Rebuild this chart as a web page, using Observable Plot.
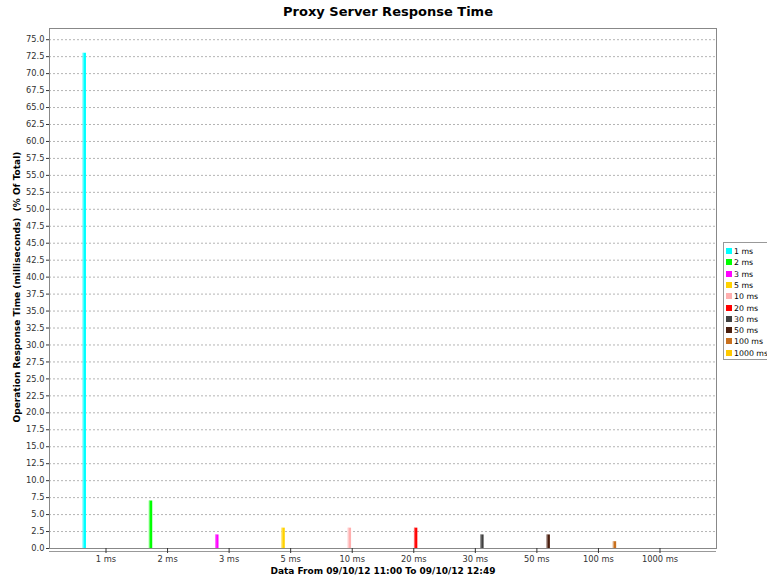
<!DOCTYPE html>
<html><head><meta charset="utf-8">
<script src="https://cdn.jsdelivr.net/npm/d3@7"></script>
<script src="https://cdn.jsdelivr.net/npm/@observablehq/plot@0.6"></script>
<style>
html,body{margin:0;padding:0;background:#fff;}
#chart{position:relative;width:767px;height:581px;overflow:hidden;font-family:"DejaVu Sans",sans-serif;color:#000;}
#chart svg{position:absolute;left:0;top:0;background:transparent !important;}
.title{position:absolute;left:0;width:776px;top:4px;text-align:center;font-weight:bold;font-size:13px;white-space:pre;}
.xlabel{position:absolute;left:0;width:766px;top:566px;text-align:center;font-weight:bold;font-size:9px;white-space:pre;}
.ylabel{position:absolute;left:-183px;width:400px;top:281px;text-align:center;font-weight:bold;font-size:9px;white-space:pre;transform:rotate(-90deg);transform-origin:50% 50%;line-height:12px;}
.legend{position:absolute;left:723px;top:242px;width:60px;height:116px;border:1px solid #999;background:#fff;font-size:7.8px;}
.legend .row{position:absolute;left:2px;height:11px;line-height:11px;white-space:nowrap;}
.legend .sw{display:inline-block;width:6px;height:6px;margin-right:2px;vertical-align:0px;}
</style>
</head><body>
<div id="chart"></div>
<script>
// ---- data ----
const categories = ["1 ms","2 ms","3 ms","5 ms","10 ms","20 ms","30 ms","50 ms","100 ms","1000 ms"];
const seriesNames = ["1 ms","2 ms","3 ms","5 ms","10 ms","20 ms","30 ms","50 ms","100 ms","1000 ms"];
const values = [73, 7, 2, 3, 3, 3, 2, 2, 1, 0];
const seriesColors = ["#00FFFF","#00FF00","#FF00FF","#FFD200","#FFAFAF","#FF0000","#404040","#4A1E0E","#C8701E","#FFC800"];
const yTicks = [0,2.5,5,7.5,10,12.5,15,17.5,20,22.5,25,27.5,30,32.5,35,37.5,40,42.5,45,47.5,50,52.5,55,57.5,60,62.5,65,67.5,70,72.5,75];
const yMax = 76.65;
const titleText = "Proxy Server Response Time";
const xLabelText = "Data From 09/10/12 11:00 To 09/10/12 12:49";
const yLabelText = "Operation Response Time (milliseconds)  (% Of Total)";

const rows = categories.map((c, i) => ({category: c, series: seriesNames[i], value: values[i]}));

const W = 767, H = 581;
const margins = {marginTop: 28, marginBottom: 33, marginLeft: 49, marginRight: 51};
const chart = document.getElementById("chart");

const bg = Plot.plot({
  width: W, height: H, ...margins,
  style: {background: "transparent", fontFamily: "DejaVu Sans", fontSize: "8.3px", color: "#333"},
  y: {domain: [0, yMax], ticks: yTicks, tickFormat: d => d.toFixed(1), tickSize: 3, tickPadding: 2, label: null},
  marks: [
    Plot.ruleY(yTicks.filter(d => d > 0), {stroke: "#b4b4b4", strokeDasharray: "2,2"}),
    Plot.frame({stroke: "#888"}),
    Plot.ruleY([0], {dy: 3, stroke: "#999"})
  ]
});
chart.appendChild(bg);

const fg = Plot.plot({
  width: W, height: H, ...margins,
  style: {background: "transparent", fontFamily: "DejaVu Sans", fontSize: "8.3px", color: "#333"},
  facet: {data: rows, x: "category"},
  fx: {domain: categories, paddingInner: 0, paddingOuter: 0.418, round: false, axis: "bottom", tickSize: 5, tickPadding: 3, label: null},
  x: {domain: seriesNames, paddingInner: 0.28, paddingOuter: 1.66, round: false, axis: null},
  y: {domain: [0, yMax], axis: null},
  color: {domain: seriesNames, range: seriesColors},
  marks: [
    Plot.barY(rows, {x: "series", y: "value", fill: "series"}),
    Plot.barY(rows, {x: "series", y: "value", fill: "white", fillOpacity: 0.4, insetRight: 2.2})
  ]
});
chart.appendChild(fg);

function addDiv(cls, text) {
  const d = document.createElement("div");
  d.className = cls; d.textContent = text; chart.appendChild(d); return d;
}
addDiv("title", titleText);
addDiv("xlabel", xLabelText);
addDiv("ylabel", yLabelText);

const leg = document.createElement("div");
leg.className = "legend";
seriesNames.forEach((s, i) => {
  const r = document.createElement("div");
  r.className = "row";
  r.style.top = (3 + i * 11.3) + "px";
  const sw = document.createElement("span");
  sw.className = "sw"; sw.style.background = seriesColors[i];
  r.appendChild(sw);
  r.appendChild(document.createTextNode(s));
  leg.appendChild(r);
});
chart.appendChild(leg);
</script>
</body></html>
